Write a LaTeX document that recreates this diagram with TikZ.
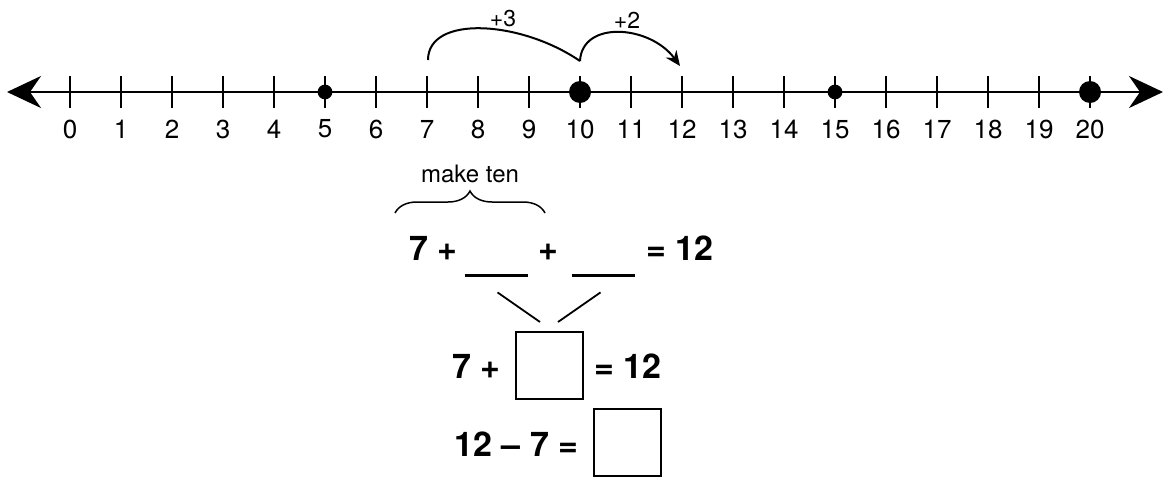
\documentclass[tikz,border=0pt]{standalone}
\usepackage{fontspec}
\setmainfont{TeX Gyre Heros}
\usetikzlibrary{arrows.meta,decorations.pathreplacing}
\begin{document}
\begin{tikzpicture}[x=0.5pt,y=-0.5pt,>=Stealth,
 num/.style={font=\fontsize{13}{15}\selectfont,inner sep=0pt},
 jl/.style={font=\fontsize{11.5}{13}\selectfont,inner sep=0pt},
 eq/.style={font=\fontsize{17}{19}\selectfont\bfseries,inner sep=0pt},
 sdot/.style={circle,fill,inner sep=0pt,minimum size=7.4pt},
 bdot/.style={circle,fill,inner sep=0pt,minimum size=11pt},
 blank/.style={inner sep=0pt,minimum width=31.5pt,minimum height=6pt},
 ansbox/.style={draw,line width=1pt,inner sep=0pt,minimum size=33.5pt}]
\useasboundingbox (0,0) rectangle (1165,477);
% number line
\coordinate (L) at (7,92); \coordinate (R) at (1163,92);
\draw[line width=1.1pt,{Stealth[length=17pt,width=16pt,inset=5.5pt]}-{Stealth[length=17pt,width=16pt,inset=5.5pt]}] (L)--(R);
\foreach \n in {0,...,20}{
 \coordinate (t\n) at ({70+51*\n},92);
 \draw[line width=.9pt] (t\n) ++(0,-16) -- ++(0,32);
 \node[num] (n\n) at ({70+51*\n},129) {\n};}
\node[sdot] (d5) at (t5) {}; \node[sdot] (d15) at (t15) {};
\node[bdot] (d10) at (t10) {}; \node[bdot] (d20) at (t20) {};
% jumps
\coordinate (j7) at (428,60); \coordinate (j10) at (580,61); \coordinate (j12) at (680,66);
\draw[line width=1pt] (j7) .. controls (428,15) and (520,20) .. (j10);
\draw[line width=1pt,-{Stealth[length=7.5pt,width=6.5pt]}] (j10) .. controls (582,20) and (650,25) .. (j12);
\node[jl] (p3) at (503,19) {+3}; \node[jl] (p2) at (627,20) {+2};
% make ten
\coordinate (bA) at (395,213); \coordinate (bB) at (545,213);
\draw[line width=.75pt,decorate,decoration={brace,amplitude=11pt}] (bA)--(bB);
\node[jl,font=\fontsize{12}{14}\selectfont] (mk) at (470,174) {make ten};
% equations
\node[eq,anchor=base west] (e1a) at (409,260) {7 +};
\node[blank] (bl1) at (496.5,269) {}; \draw[line width=1.1pt] (bl1.south west)--(bl1.south east);
\node[eq,anchor=base] (e1b) at (548.5,260) {+};
\node[blank] (bl2) at (603.5,269) {}; \draw[line width=1.1pt] (bl2.south west)--(bl2.south east);
\node[eq,anchor=base west] (e1c) at (646,260) {= 12};
\node[ansbox] (box1) at (549,365.5) {};
\draw[line width=.9pt] ([shift={(1,17)}]bl1.south) -- ([shift={(-9,-9)}]box1.north);
\draw[line width=.9pt] ([shift={(-3,17)}]bl2.south) -- ([shift={(9,-9)}]box1.north);
\node[eq,anchor=base west] (e2a) at (452,378) {7 +};
\node[eq,anchor=base west] (e2b) at (594,378) {= 12};
\node[eq,anchor=base west] (e3a) at (454,456) {12 – 7 =};
\node[ansbox] (box2) at (627.5,442.5) {};
\end{tikzpicture}
\end{document}
